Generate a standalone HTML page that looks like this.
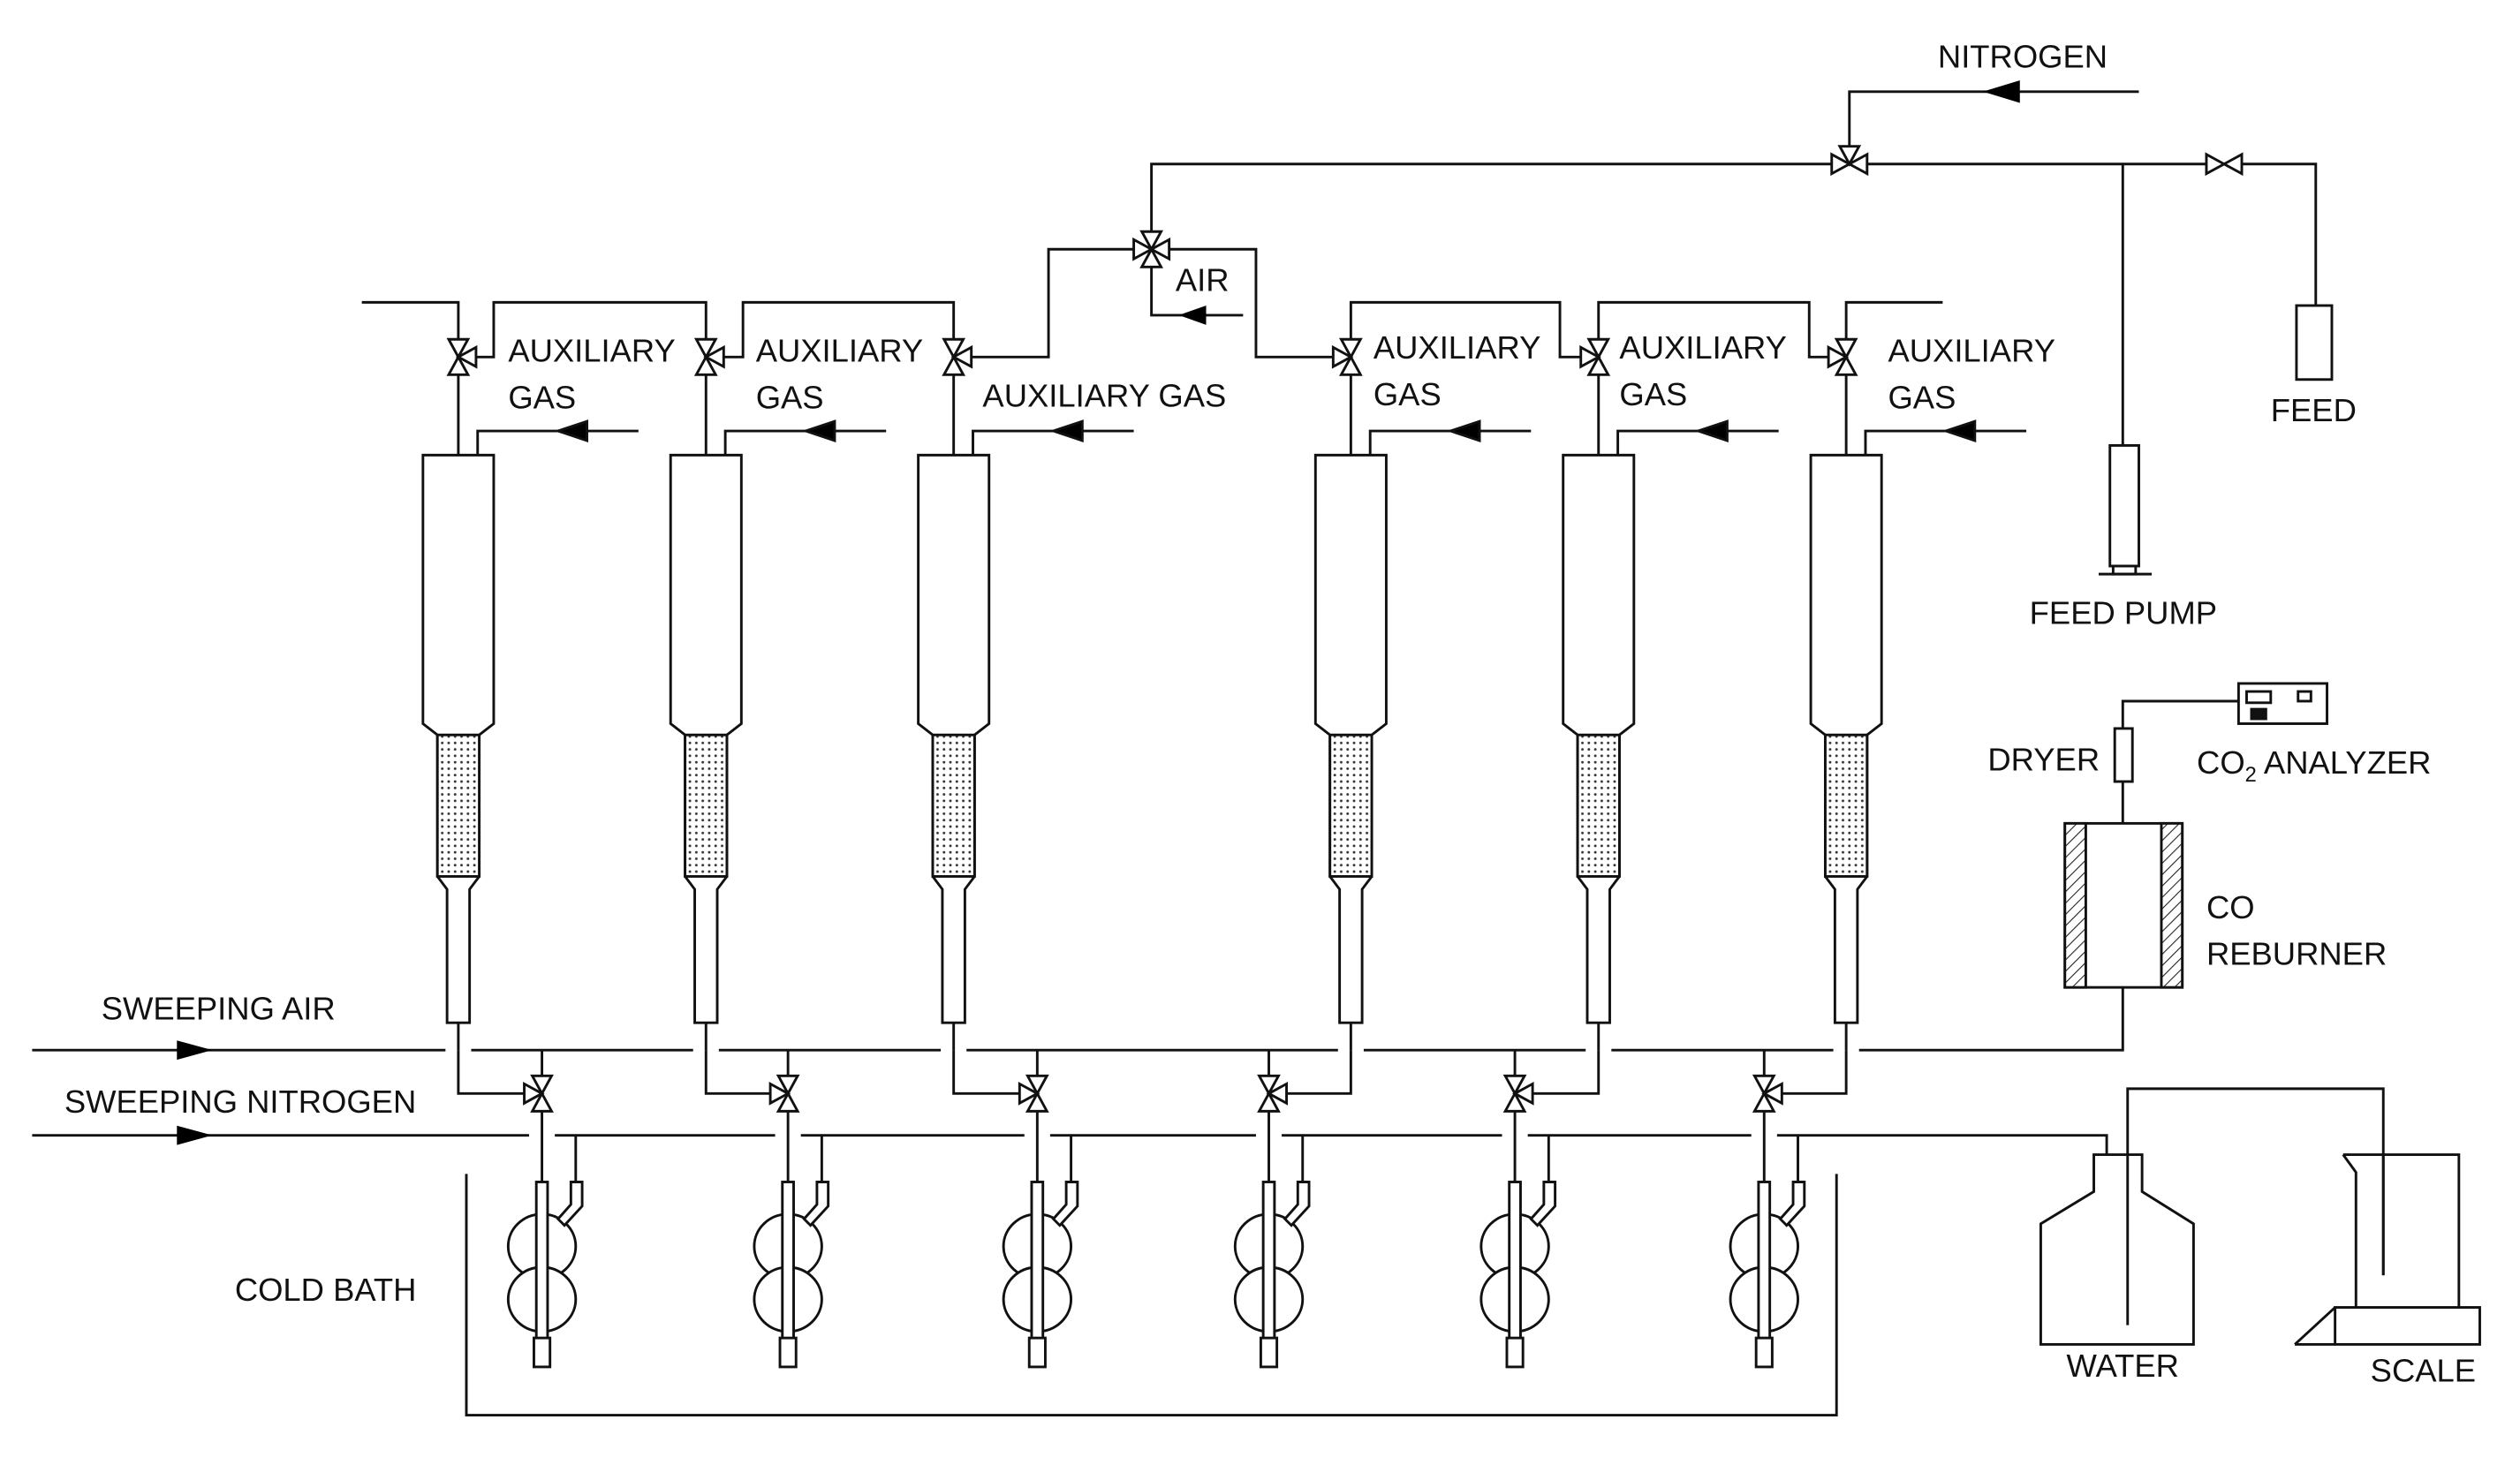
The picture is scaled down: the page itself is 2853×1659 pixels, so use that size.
<!DOCTYPE html>
<html><head><meta charset="utf-8"><style>
html,body{margin:0;padding:0;background:#fff;}
svg{display:block;}
text{font-family:"Liberation Sans",sans-serif;font-size:20px;fill:#111;}
</style></head><body>
<svg width="2853" height="1659" viewBox="0 0 1567 911" preserveAspectRatio="none" xmlns="http://www.w3.org/2000/svg">
<defs>
<pattern id="dots" width="4" height="4" patternUnits="userSpaceOnUse"><rect width="4" height="4" fill="#fff"/><circle cx="2" cy="2" r="0.8" fill="#333"/></pattern>
<pattern id="hatch" width="5" height="5" patternUnits="userSpaceOnUse" patternTransform="rotate(45)"><rect width="5" height="5" fill="#fff"/><line x1="0" y1="0" x2="0" y2="5" stroke="#222" stroke-width="1.2"/></pattern>
<g id="col">
 <path d="M-22,283 V450 L-13,457 V545 L-7,553 V636 H7 V553 L13,545 V457 L22,450 V283 Z" fill="#fff"/>
 <rect x="-13" y="457" width="26" height="88" fill="url(#dots)"/>
 <line x1="0" y1="283" x2="0" y2="233"/>
 <path d="M12,283 V268 H112" fill="none"/>
 <polygon points="62,268 80,262 80,274" fill="#000"/>
 <path d="M0,636 V653" fill="none"/>
</g>
<g id="vv">
 <polygon points="-6,-11 6,-11 0,0" fill="#fff"/>
 <polygon points="-6,11 6,11 0,0" fill="#fff"/>
</g>
<g id="trap">
 <line x1="0" y1="653" x2="0" y2="735"/>
 <path d="M21,706 V735" fill="none"/>
 <path d="M-21,775 a21,20 0 1,1 42,0 a21,20 0 1,1 -42,0 Z" fill="#fff"/>
 <path d="M-21,808 a21,20 0 1,1 42,0 a21,20 0 1,1 -42,0 Z" fill="#fff"/>
 <path d="M18,735 H25 V750 L14,762 L10,758 L18,749 Z" fill="#fff"/>
 <rect x="-3.5" y="735" width="7" height="100" fill="#fff"/>
 <rect x="-5" y="832" width="10" height="18" fill="#fff"/>
</g>
</defs>
<g stroke="#111" stroke-width="1.6" fill="none">
<use href="#col" x="285"/><use href="#col" x="439"/><use href="#col" x="593"/>
<use href="#col" x="840"/><use href="#col" x="994"/><use href="#col" x="1148"/>
<path d="M285,653 V680 H326"/><path d="M439,653 V680 H479"/><path d="M593,653 V680 H634"/>
<path d="M840,653 V680 H800"/><path d="M994,653 V680 H953"/><path d="M1148,653 V680 H1108"/>
<path d="M20,653 H277 M293,653 H431 M447,653 H585 M601,653 H832 M848,653 H986 M1002,653 H1140 M1156,653 H1320 V614"/>
<path d="M20,706 H329 M345,706 H482 M498,706 H637 M653,706 H781 M797,706 H934 M950,706 H1089 M1105,706 H1310 V750"/>
<use href="#trap" x="337"/><use href="#trap" x="490"/><use href="#trap" x="645"/>
<use href="#trap" x="789"/><use href="#trap" x="942"/><use href="#trap" x="1097"/>
<g transform="translate(337,680)"><use href="#vv"/><polygon points="0,0 -11,-6 -11,6" fill="#fff"/></g>
<g transform="translate(490,680)"><use href="#vv"/><polygon points="0,0 -11,-6 -11,6" fill="#fff"/></g>
<g transform="translate(645,680)"><use href="#vv"/><polygon points="0,0 -11,-6 -11,6" fill="#fff"/></g>
<g transform="translate(789,680)"><use href="#vv"/><polygon points="0,0 11,-6 11,6" fill="#fff"/></g>
<g transform="translate(942,680)"><use href="#vv"/><polygon points="0,0 11,-6 11,6" fill="#fff"/></g>
<g transform="translate(1097,680)"><use href="#vv"/><polygon points="0,0 11,-6 11,6" fill="#fff"/></g>
<path d="M290,730 V880 H1142 V730"/>
<path d="M225,188 H285 V211"/>
<path d="M296,222 H307 V188 H439 V211"/>
<path d="M450,222 H462 V188 H593 V211"/>
<path d="M604,222 H652 V155 H705"/>
<path d="M727,155 H781 V222 H829"/>
<path d="M840,211 V188 H970 V222 H983"/>
<path d="M994,211 V188 H1125 V222 H1137"/>
<path d="M1148,211 V188 H1208"/>
<path d="M716,144 V102 H1139 M1161,102 H1372 M1394,102 H1440 V190"/>
<path d="M1150,91 V57 H1330"/>
<path d="M716,166 V196 H773"/>
<path d="M1320,102 V277"/>
<g transform="translate(285,222)"><use href="#vv"/><polygon points="0,0 11,-6 11,6" fill="#fff"/></g>
<g transform="translate(439,222)"><use href="#vv"/><polygon points="0,0 11,-6 11,6" fill="#fff"/></g>
<g transform="translate(593,222)"><use href="#vv"/><polygon points="0,0 11,-6 11,6" fill="#fff"/></g>
<g transform="translate(840,222)"><use href="#vv"/><polygon points="0,0 -11,-6 -11,6" fill="#fff"/></g>
<g transform="translate(994,222)"><use href="#vv"/><polygon points="0,0 -11,-6 -11,6" fill="#fff"/></g>
<g transform="translate(1148,222)"><use href="#vv"/><polygon points="0,0 -11,-6 -11,6" fill="#fff"/></g>
<g transform="translate(716,155)"><use href="#vv"/><polygon points="0,0 -11,-6 -11,6" fill="#fff"/><polygon points="0,0 11,-6 11,6" fill="#fff"/></g>
<g transform="translate(1150,102)"><polygon points="0,0 -11,-6 -11,6" fill="#fff"/><polygon points="0,0 11,-6 11,6" fill="#fff"/><polygon points="-6,-11 6,-11 0,0" fill="#fff"/></g>
<g transform="translate(1383,102)"><polygon points="0,0 -11,-6 -11,6" fill="#fff"/><polygon points="0,0 11,-6 11,6" fill="#fff"/></g>
<rect x="1428" y="190" width="22" height="46" fill="#fff"/>
<rect x="1312" y="277" width="18" height="75" fill="#fff"/>
<rect x="1314" y="352" width="14" height="5" fill="#fff"/>
<line x1="1305" y1="357" x2="1338" y2="357"/>
<rect x="1392" y="425" width="55" height="25" fill="#fff"/>
<rect x="1397" y="430" width="15" height="7"/>
<rect x="1429" y="430" width="8" height="6"/>
<rect x="1400" y="441" width="9" height="6" fill="#111"/>
<path d="M1392,436 H1320 V453 M1320,486 V512"/>
<rect x="1315" y="453" width="11" height="33" fill="#fff"/>
<rect x="1284" y="512" width="73" height="102" fill="#fff"/>
<rect x="1284" y="512" width="13" height="102" fill="url(#hatch)"/>
<rect x="1344" y="512" width="13" height="102" fill="url(#hatch)"/>
<g transform="translate(5,0)">
<path d="M1297,718 H1327 V741 L1359,761 V836 H1264 V761 L1297,741 Z" fill="#fff"/>
<path d="M1318,824 V677 H1477 V793"/>
<path d="M1452,718 L1460,729 V813 M1452,718 H1524 V813"/>
<rect x="1447" y="813" width="90" height="23" fill="#fff"/>
<path d="M1422,836 H1447 M1422,836 L1447,813"/>
<path d="M1477,718 V793"/>
</g>
</g>
<g fill="#000">
<polygon points="1233,57 1256,50 1256,64"/>
<polygon points="733,196 750,190 750,202"/>
<polygon points="132,653 110,647 110,659"/>
<polygon points="132,706 110,700 110,712"/>
</g>
<text x="1205" y="42">NITROGEN</text>
<text x="731" y="181">AIR</text>
<text x="316" y="225">AUXILIARY</text><text x="316" y="254">GAS</text>
<text x="470" y="225">AUXILIARY</text><text x="470" y="254">GAS</text>
<text x="611" y="253">AUXILIARY GAS</text>
<text x="854" y="223">AUXILIARY</text><text x="854" y="252">GAS</text>
<text x="1007" y="223">AUXILIARY</text><text x="1007" y="252">GAS</text>
<text x="1174" y="225">AUXILIARY</text><text x="1174" y="254">GAS</text>
<text x="1412" y="262">FEED</text>
<text x="1262" y="388">FEED PUMP</text>
<text x="1236" y="479">DRYER</text>
<text x="1366" y="481">CO<tspan font-size="13" dy="5">2</tspan><tspan dy="-5"> ANALYZER</tspan></text>
<text x="1372" y="571">CO</text>
<text x="1372" y="600">REBURNER</text>
<text x="63" y="634">SWEEPING AIR</text>
<text x="40" y="692">SWEEPING NITROGEN</text>
<text x="146" y="809">COLD BATH</text>
<text x="1285" y="856">WATER</text>
<text x="1474" y="859">SCALE</text>
</svg>
</body></html>
